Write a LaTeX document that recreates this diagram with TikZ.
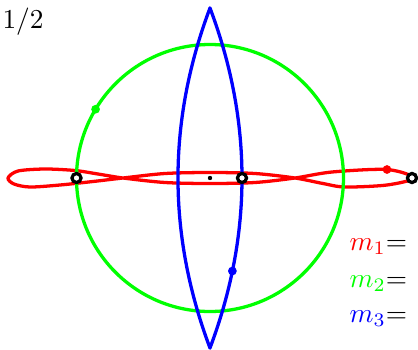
\documentclass[tikz,border=0pt]{standalone}
\usepackage{tikz}

\begin{document}
\begin{tikzpicture}[
    x=0.366pt, y=0.366pt,
    orbit/.style={line width=1.2pt, line join=round},
    initial/.style={circle, draw=black, fill=white, line width=1.2pt, inner sep=0pt, minimum size=3.3pt},
    current/.style={circle, fill, inner sep=0pt, minimum size=3.2pt},
    masscentre/.style={circle, fill=black, inner sep=0pt, minimum size=1.6pt},
    lab/.style={anchor=base west, inner sep=0pt},
]
\useasboundingbox (-210,-171) rectangle (208,178);

% ── Orbits ──
\draw[orbit, red] plot[smooth cycle] coordinates {
    (-202,0) (-192,7) (-165,9) (-135,7.5) (-112,4) (-87,0)
    (-45,-4.5) (0,-5.5) (45,-4.5) (85,0)
    (122,6) (177,8.5) (204,0)
    (177,-7) (135,-9) (113,-5.5) (85,0)
    (45,4.5) (0,5.5) (-45,4.5) (-87,0)
    (-117,-3.5) (-150,-7) (-180,-9) (-196,-6)};
\draw[orbit, green] (0,0) circle[radius=133.5];
\draw[orbit, blue] plot[domain=-170:170, samples=61, smooth] ({32*(1-(\x/170)^2)},\x)
    -- plot[domain=170:-170, samples=61, smooth] ({-32*(1-(\x/170)^2)},\x) -- cycle;

% ── Bodies ──
\node[masscentre] (com) at (0,0) {};
\node[current, red] (r1) at (177,8.5) {};
\node[current, green] (g1) at (149:133.5) {};
\node[current, blue] (b1) at (22.4,-93) {};
\node[initial] (r0) at (202,0) {};
\node[initial] (g0) at (-133.5,0) {};
\node[initial] (b0) at (32,0) {};

% ── Labels ──
\node[anchor=north west, inner sep=0pt] (frac) at (-208,171) {$1/2$};
\node[lab] (lab1) at (139,-72) {\textcolor{red}{$m_1$}=};
\node[lab] (lab2) at (139,-109) {\textcolor{green}{$m_2$}=};
\node[lab] (lab3) at (139,-144) {\textcolor{blue}{$m_3$}=};

\end{tikzpicture}
\end{document}
